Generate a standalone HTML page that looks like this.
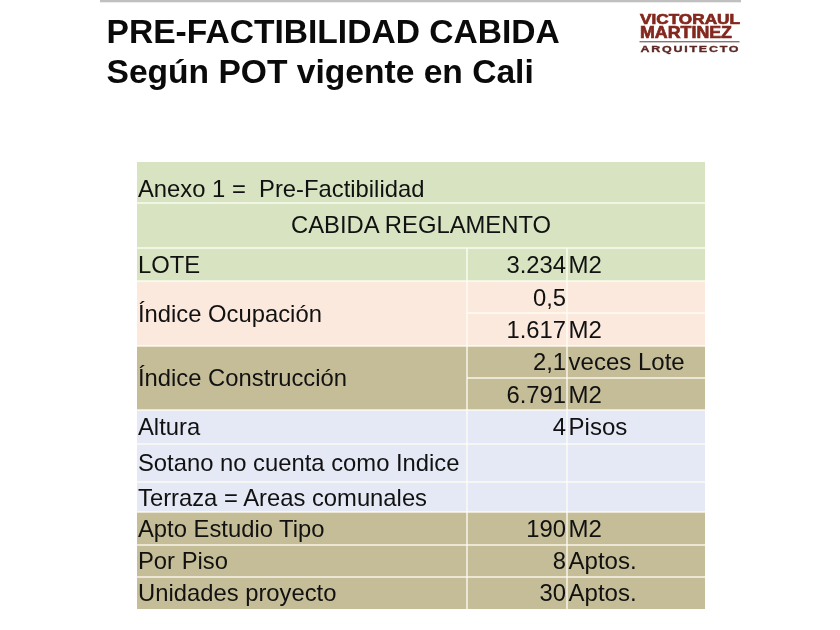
<!DOCTYPE html>
<html lang="es">
<head>
<meta charset="utf-8">
<title>Pre-Factibilidad Cabida</title>
<style>
html,body{margin:0;padding:0;background:#fff;}
body{width:840px;height:630px;position:relative;overflow:hidden;font-family:"Liberation Sans",Arial,sans-serif;color:#111;}
.topbar{position:absolute;left:100px;top:0;width:641px;height:2px;background:#c0c0c0;border-bottom:1px solid #ececec;}
.title{position:absolute;left:106.5px;top:11.6px;font-weight:bold;font-size:33.6px;line-height:40px;color:#0a0a0a;white-space:nowrap;}
.cell{position:absolute;box-sizing:border-box;font-size:23.8px;white-space:nowrap;display:flex;align-items:center;}
.g{background:#d7e3c1;}
.p{background:#fce9dd;}
.k{background:#c4bd97;}
.b{background:#e5e9f5;}
.r{justify-content:flex-end;padding-right:1px;}
.l{padding-left:1px;}
.u{font-size:24px;padding-left:1.6px;}
.c{justify-content:center;}
.hl,.vl{position:absolute;background:rgba(255,254,244,.66);}
</style>
</head>
<body>
<div class="topbar"></div>
<div class="title">PRE-FACTIBILIDAD CABIDA<br>Según POT vigente en Cali</div>

<!-- table backgrounds -->
<div class="cell g l" style="left:137px;top:162px;width:568px;height:41px;padding-top:12px">Anexo 1 =&nbsp; Pre-Factibilidad</div>
<div class="cell g c" style="left:137px;top:203px;width:568px;height:45px;padding-bottom:2px">CABIDA REGLAMENTO</div>
<div class="cell g l" style="left:137px;top:248px;width:330px;height:33px;">LOTE</div>
<div class="cell g r" style="left:467px;top:248px;width:100px;height:33px;">3.234</div>
<div class="cell g l u" style="left:567px;top:248px;width:138px;height:33px;">M2</div>

<div class="cell p l" style="left:137px;top:281px;width:330px;height:65px;">Índice Ocupación</div>
<div class="cell p r" style="left:467px;top:281px;width:100px;height:32px;padding-top:1px">0,5</div>
<div class="cell p l u" style="left:567px;top:281px;width:138px;height:32px;"></div>
<div class="cell p r" style="left:467px;top:313px;width:100px;height:33px;">1.617</div>
<div class="cell p l u" style="left:567px;top:313px;width:138px;height:33px;">M2</div>

<div class="cell k l" style="left:137px;top:346px;width:330px;height:64px;">Índice Construcción</div>
<div class="cell k r" style="left:467px;top:346px;width:100px;height:32px;">2,1</div>
<div class="cell k l u" style="left:567px;top:346px;width:138px;height:32px;">veces Lote</div>
<div class="cell k r" style="left:467px;top:378px;width:100px;height:32px;padding-top:2px">6.791</div>
<div class="cell k l u" style="left:567px;top:378px;width:138px;height:32px;padding-top:2px">M2</div>

<div class="cell b l" style="left:137px;top:410px;width:330px;height:34px;">Altura</div>
<div class="cell b r" style="left:467px;top:410px;width:100px;height:34px;">4</div>
<div class="cell b l u" style="left:567px;top:410px;width:138px;height:34px;">Pisos</div>

<div class="cell b l" style="left:137px;top:444px;width:330px;height:38px;">Sotano no cuenta como Indice</div>
<div class="cell b r" style="left:467px;top:444px;width:100px;height:38px;"></div>
<div class="cell b l u" style="left:567px;top:444px;width:138px;height:38px;"></div>

<div class="cell b l" style="left:137px;top:482px;width:330px;height:30px;padding-top:2px">Terraza = Areas comunales</div>
<div class="cell b r" style="left:467px;top:482px;width:100px;height:30px;"></div>
<div class="cell b l u" style="left:567px;top:482px;width:138px;height:30px;"></div>

<div class="cell k l" style="left:137px;top:512px;width:330px;height:33px;">Apto Estudio Tipo</div>
<div class="cell k r" style="left:467px;top:512px;width:100px;height:33px;">190</div>
<div class="cell k l u" style="left:567px;top:512px;width:138px;height:33px;">M2</div>

<div class="cell k l" style="left:137px;top:545px;width:330px;height:32px;">Por Piso</div>
<div class="cell k r" style="left:467px;top:545px;width:100px;height:32px;">8</div>
<div class="cell k l u" style="left:567px;top:545px;width:138px;height:32px;">Aptos.</div>

<div class="cell k l" style="left:137px;top:577px;width:330px;height:32px;">Unidades proyecto</div>
<div class="cell k r" style="left:467px;top:577px;width:100px;height:32px;">30</div>
<div class="cell k l u" style="left:567px;top:577px;width:138px;height:32px;">Aptos.</div>

<!-- grid lines -->
<div class="hl" style="left:137px;top:202px;width:568px;height:2px"></div>
<div class="hl" style="left:137px;top:247px;width:568px;height:2px"></div>
<div class="hl" style="left:137px;top:280px;width:568px;height:2px"></div>
<div class="hl" style="left:467px;top:312px;width:238px;height:2px"></div>
<div class="hl" style="left:137px;top:345px;width:568px;height:2px"></div>
<div class="hl" style="left:467px;top:377px;width:238px;height:2px"></div>
<div class="hl" style="left:137px;top:409px;width:568px;height:2px"></div>
<div class="hl" style="left:137px;top:443px;width:568px;height:2px"></div>
<div class="hl" style="left:137px;top:481px;width:568px;height:2px"></div>
<div class="hl" style="left:137px;top:511px;width:568px;height:2px"></div>
<div class="hl" style="left:137px;top:544px;width:568px;height:2px"></div>
<div class="hl" style="left:137px;top:576px;width:568px;height:2px"></div>
<div class="vl" style="left:466px;top:248px;width:2px;height:361px"></div>
<div class="vl" style="left:566px;top:248px;width:2px;height:361px"></div>

<!-- logo -->
<svg style="position:absolute;left:636px;top:8px" width="110" height="50" viewBox="0 0 110 50">
<g fill="#83281f" stroke="#83281f" font-family="Liberation Sans, Arial, sans-serif" font-weight="bold">
<text x="4" y="15.6" font-size="15.4" stroke-width=".7" textLength="100" lengthAdjust="spacingAndGlyphs">VICTORAUL</text>
<text x="4" y="30.2" font-size="17" stroke-width=".7" textLength="92" lengthAdjust="spacingAndGlyphs">MARTINEZ</text>
<rect x="3.5" y="33" width="100" height="1.4" fill="#8a7474" stroke="none"/>
<text transform="translate(4.5,44.3) scale(1.3,1)" x="0" y="0" font-size="9.6" stroke-width=".35" fill="#5e2723" stroke="#5e2723" textLength="75.4" lengthAdjust="spacing">ARQUITECTO</text>
</g>
</svg>
</body>
</html>
